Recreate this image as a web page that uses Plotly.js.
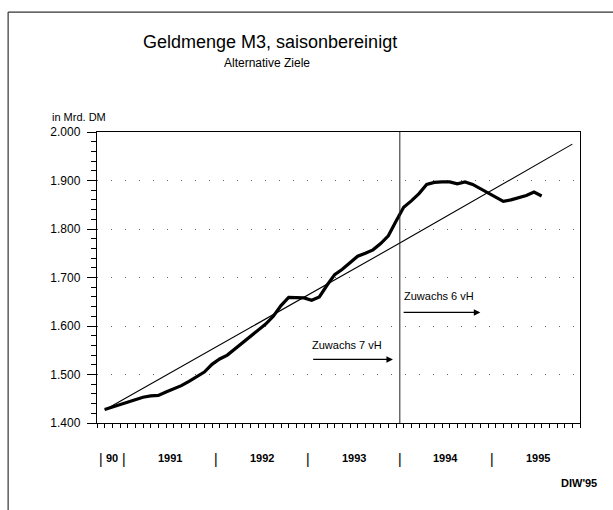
<!DOCTYPE html>
<html>
<head>
<meta charset="utf-8">
<script src="https://cdn.plot.ly/plotly-3.0.1.min.js"></script>
<style>html,body{margin:0;padding:0;background:#fff;}#chart{width:613px;height:510px;}</style>
</head>
<body>
<div id="chart"></div>
<script>
// months counted from January 1990 (0 = Jan 1990), Oct 1990 .. Jul 1995
const months = [9,10,11,12,13,14,15,16,17,18,19,20,21,22,23,24,25,26,27,28,29,30,31,32,33,34,35,36,37,38,39,40,41,42,43,44,45,46,47,48,49,50,51,52,53,54,55,56,57,58,59,60,61,62,63,64,65,66];
// Geldmenge M3, saisonbereinigt, in Mrd. DM
const m3 = [1428,1433,1437,1442,1448,1453,1456,1457,1464,1470,1477,1486,1495,1505,1521,1532,1540,1553,1565,1577,1590,1604,1620,1642,1659,1659,1658,1653,1660,1684,1706,1717,1730,1744,1750,1757,1770,1786,1816,1845,1858,1873,1892,1896,1897,1897,1893,1897,1892,1883,1875,1866,1857,1860,1864,1869,1876,1868];
// Zielpfad (target path)
const targetMonths = [9, 47.5, 70];
const targetValues = [1427, 1771, 1975];
// year labels on x axis
const yearLabels = ['90','1991','1992','1993','1994','1995'];
const yearLabelPos = [10, 17.5, 29.5, 41.5, 53.5, 65.5];
const yearSepPos = [8.5, 11.5, 23.5, 35.5, 47.5, 59.5];
const breakMonth = 47.5;
// growth annotations
const growthTexts = ['Zuwachs 7 vH','Zuwachs 6 vH'];
const growthTextX = [35.8, 47.8];
const growthTextY = [1560, 1661];
const growthArrowFrom = [36.0, 47.8];
const growthArrowTo = [46.6, 58.0];
const growthArrowY = [1531, 1628];

const FONT = '"Liberation Sans", Arial, Helvetica, sans-serif';

const traces = [
  {x: targetMonths, y: targetValues, type:'scatter', mode:'lines', line:{color:'#000', width:1.1}, hoverinfo:'skip'},
  {x: months, y: m3, type:'scatter', mode:'lines', line:{color:'#000', width:3.2, shape:'linear'}, hoverinfo:'skip'}
];

const annotations = [];
yearLabels.forEach((t,i)=>annotations.push({x:yearLabelPos[i], y:0, xref:'x', yref:'paper', text:'<b>'+t+'</b>', showarrow:false, yanchor:'top', yshift:-27, font:{family:FONT, size:11, color:'#000'}}));
yearSepPos.forEach(p=>annotations.push({x:p, y:0, xref:'x', yref:'paper', text:'|', showarrow:false, yanchor:'top', yshift:-26, font:{family:FONT, size:14, color:'#000'}}));
growthTexts.forEach((t,i)=>{
  annotations.push({x:growthTextX[i], y:growthTextY[i], xref:'x', yref:'y', text:t, showarrow:false, xanchor:'left', yanchor:'middle', font:{family:FONT, size:11, color:'#000'}});
  annotations.push({x:growthArrowTo[i], y:growthArrowY[i], ax:growthArrowFrom[i], ay:growthArrowY[i], xref:'x', yref:'y', axref:'x', ayref:'y', text:'', showarrow:true, arrowhead:2, arrowsize:1, arrowwidth:1.3, arrowcolor:'#000'});
});
annotations.push({x:0.359, y:1.0, xref:'paper', yref:'paper', text:'Geldmenge M3, saisonbereinigt', showarrow:false, xanchor:'center', yanchor:'middle', yshift:90, font:{family:FONT, size:18, color:'#000'}});
annotations.push({x:0.353, y:1.0, xref:'paper', yref:'paper', text:'Alternative Ziele', showarrow:false, xanchor:'center', yanchor:'middle', yshift:69, font:{family:FONT, size:12, color:'#000'}});
annotations.push({x:-0.097, y:1.0, xref:'paper', yref:'paper', text:'in Mrd. DM', showarrow:false, xanchor:'left', yanchor:'middle', yshift:15, font:{family:FONT, size:11, color:'#000'}});
annotations.push({x:1.04, y:0, xref:'paper', yref:'paper', text:'<b>DIW\'95</b>', showarrow:false, xanchor:'right', yanchor:'middle', yshift:-60, font:{family:FONT, size:11, color:'#000'}});

const layout = {
  width:613, height:510,
  margin:{l:97, r:33, t:132, b:87},
  paper_bgcolor:'#fff', plot_bgcolor:'#fff',
  showlegend:false,
  separators:',.',
  font:{family:FONT, size:11, color:'#000'},
  xaxis:{range:[8,71], showgrid:false, zeroline:false, showline:true, linecolor:'#000', linewidth:1.2, mirror:true,
         ticks:'outside', tickmode:'linear', tick0:8, dtick:1, ticklen:4, tickcolor:'#000', tickwidth:1, showticklabels:false, fixedrange:true},
  yaxis:{range:[1400,2000], showgrid:true, gridcolor:'#666', gridwidth:1, griddash:'1px,13px', zeroline:false,
         showline:true, linecolor:'#000', linewidth:1.2, mirror:true,
         ticks:'outside', tickmode:'linear', tick0:1400, dtick:100, ticklen:9, tickcolor:'#000', tickwidth:1, tickformat:',d',
         ticklabelstandoff:4, tickfont:{family:FONT, size:12, color:'#000'},
         minor:{tickmode:'linear', tick0:1400, dtick:20, ticks:'outside', ticklen:5, tickcolor:'#000', tickwidth:1, showgrid:false}, fixedrange:true},
  shapes:[
    {type:'line', xref:'x', yref:'paper', x0:breakMonth, x1:breakMonth, y0:0, y1:1, line:{color:'#222', width:1}},
    {type:'line', xref:'paper', yref:'paper', x0:-0.184, x1:-0.184, y0:1.412, y1:-0.31, line:{color:'#333', width:1.2}},
    {type:'line', xref:'paper', yref:'paper', x0:-0.184, x1:1.08, y0:1.412, y1:1.412, line:{color:'#333', width:1.2}}
  ],
  annotations:annotations
};

Plotly.newPlot('chart', traces, layout, {staticPlot:true, displayModeBar:false});
</script>
</body>
</html>
